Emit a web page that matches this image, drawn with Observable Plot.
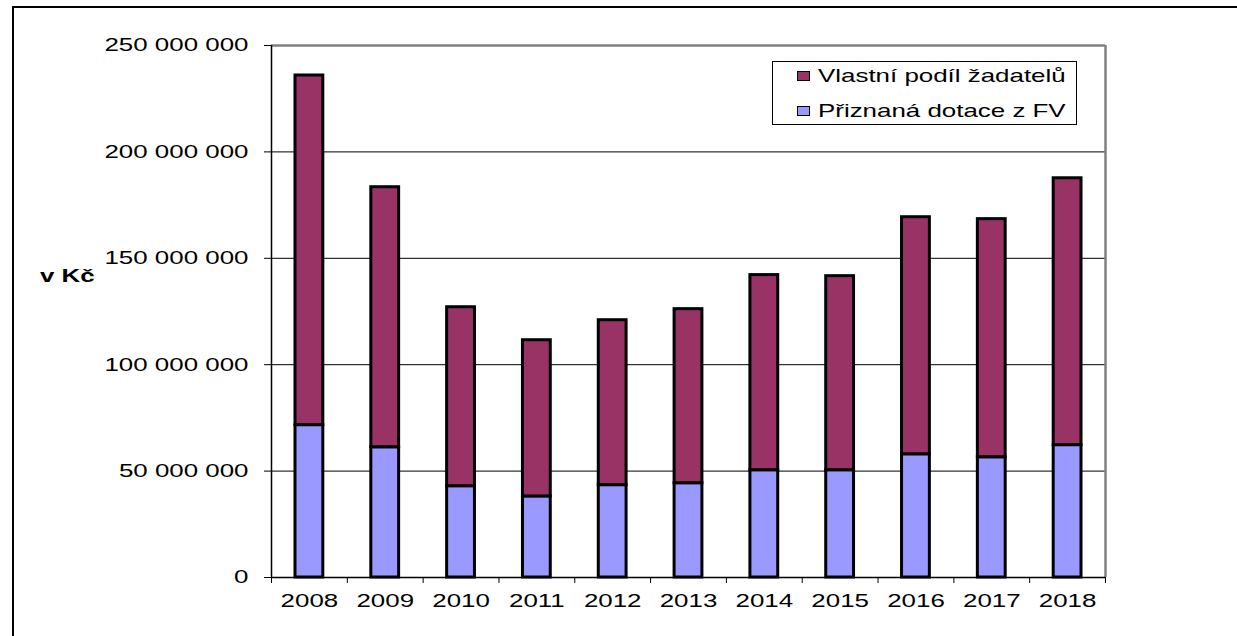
<!DOCTYPE html>
<html>
<head>
<meta charset="utf-8">
<script src="https://cdn.jsdelivr.net/npm/d3@7"></script>
<script src="https://cdn.jsdelivr.net/npm/@observablehq/plot@0.6"></script>
<style>
  html, body { margin: 0; padding: 0; background: #fff; }
  #wrap { position: relative; width: 1237px; height: 636px; overflow: hidden; font-family: "Liberation Sans", Arial, sans-serif; }
  #border { position: absolute; left: 12px; top: 6px; right: -10px; bottom: -10px; border-top: 2px solid #000; border-left: 2px solid #000; }
  #chart { position: absolute; left: 0; top: 0; }
  .stretch { display: inline-block; transform: scaleX(1.4); transform-origin: left center; white-space: nowrap; }
  #ylabel { position: absolute; left: 40px; top: 265px; font-weight: bold; font-size: 18.5px; }
  #legend { position: absolute; left: 772px; top: 61px; width: 303px; height: 62px; border: 1.5px solid #000; background: #fff; }
  .row { position: absolute; left: 24px; height: 22px; display: flex; align-items: center; font-size: 18.5px; }
  .sw { width: 11px; height: 8px; border: 1px solid #000; margin-right: 8px; flex: none; }
</style>
</head>
<body>
<div id="wrap">
  <div id="border"></div>
  <div id="chart"></div>
  <div id="ylabel"><span class="stretch">v Kč</span></div>
  <div id="legend"></div>
</div>
<script>
// ---- data ----
const years = [2008, 2009, 2010, 2011, 2012, 2013, 2014, 2015, 2016, 2017, 2018];
const dotace  = [71600000, 61200000, 42900000, 38100000, 43400000, 44300000, 50400000, 50400000, 57900000, 56500000, 62200000];
const vlastni = [164300000, 122200000, 84100000, 73400000, 77500000, 81800000, 91700000, 91200000, 111400000, 111900000, 125400000];
const seriesNames = ["Přiznaná dotace z FV", "Vlastní podíl žadatelů"];
const seriesColors = ["#9999FF", "#993366"];
const yTicks = [0, 50000000, 100000000, 150000000, 200000000, 250000000];
const legendOrder = ["Vlastní podíl žadatelů", "Přiznaná dotace z FV"];

const table = years.flatMap((y, i) => [
  {year: y, series: seriesNames[0], value: dotace[i]},
  {year: y, series: seriesNames[1], value: vlastni[i]}
]);
const boundaries = [...years, years[years.length - 1] + 1];
const labelTicks = years.map(y => y + 0.5);
const fmt = d => d3.format(",")(d).replace(/,/g, " ");

const plot = Plot.plot({
  width: 1237,
  height: 636,
  marginLeft: 271,
  marginRight: 132,
  marginTop: 45,
  marginBottom: 59,
  style: {fontFamily: "'Liberation Sans', Arial, sans-serif", fontSize: "18.5px", color: "#000", background: "transparent"},
  x: {type: "linear", domain: [boundaries[0], boundaries[boundaries.length - 1]]},
  y: {domain: [yTicks[0], yTicks[yTicks.length - 1]]},
  color: {domain: seriesNames, range: seriesColors},
  marks: [
    Plot.ruleY(yTicks.slice(1, -1), {stroke: "#000", strokeWidth: 1}),
    Plot.rectY(table, {x: "year", interval: 1, y: "value", fill: "series", stroke: "#000", strokeWidth: 3, insetLeft: 24, insetRight: 24}),
    Plot.ruleY([yTicks[yTicks.length - 1]], {stroke: "#808080", strokeWidth: 2.5}),
    Plot.ruleX([boundaries[boundaries.length - 1]], {stroke: "#808080", strokeWidth: 2.5}),
    Plot.ruleY([yTicks[0]], {stroke: "#000", strokeWidth: 1.5}),
    Plot.ruleX([boundaries[0]], {stroke: "#000", strokeWidth: 1.5}),
    Plot.axisY({ticks: yTicks, tickFormat: fmt, tickSize: 7, tickPadding: 16, label: null, stroke: "#000"}),
    Plot.axisX({ticks: labelTicks, tickFormat: d => String(Math.floor(d)), tickSize: 0, tickPadding: 16, label: null}),
    Plot.axisX({ticks: boundaries, tickFormat: () => "", tickSize: 6, label: null, stroke: "#000"})
  ]
});
document.getElementById("chart").appendChild(plot);

// horizontal stretch of the original's text
d3.select(plot).selectAll("text").each(function() {
  if (!this.textContent) return;
  const w = this.getComputedTextLength();
  this.setAttribute("textLength", w * 1.4);
  this.setAttribute("lengthAdjust", "spacingAndGlyphs");
});

// legend
const legend = document.getElementById("legend");
legendOrder.forEach((name, i) => {
  const row = document.createElement("div");
  row.className = "row";
  row.style.top = (3 + i * 35) + "px";
  const sw = document.createElement("div");
  sw.className = "sw";
  sw.style.background = seriesColors[seriesNames.indexOf(name)];
  const t = document.createElement("span");
  t.className = "stretch";
  t.textContent = name;
  row.appendChild(sw);
  row.appendChild(t);
  legend.appendChild(row);
});
</script>
</body>
</html>
